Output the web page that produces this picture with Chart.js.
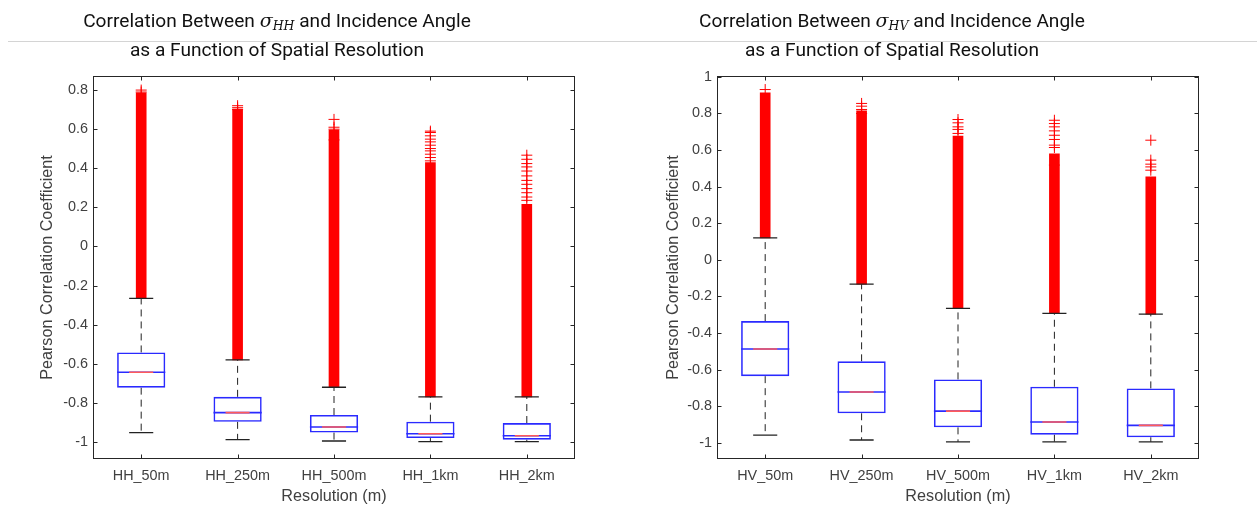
<!DOCTYPE html>
<html>
<head>
<meta charset="utf-8">
<script src="https://cdn.jsdelivr.net/npm/chart.js@4.4.1/dist/chart.umd.min.js"></script>
<style>
  body { margin: 0; background: #fff; width: 1257px; height: 506px; overflow: hidden; position: relative; }
  .panel { position: absolute; top: 0; height: 506px; }
  .title {
    position: absolute; top: 7px; transform: translateX(-50%);
    white-space: nowrap; text-align: center;
    font-family: Roboto, sans-serif; font-size: 19.1px; color: #111;
    z-index: 2;
  }
  .title div { height: 28.5px; line-height: 28px; }
  .title .sym { font-family: "DejaVu Serif", "Liberation Serif", serif; font-style: italic; line-height: 0; }
  .title sub { font-size: 12.5px; vertical-align: -3px; line-height: 0; }
  .rule { position: absolute; top: 41px; left: 8px; right: 0; height: 1px; background: #d4d4d4; z-index: 1; }
</style>
</head>
<body>
<div class="rule"></div>
<div class="title" style="left:277px"><div>Correlation Between <span class="sym">σ<sub>HH</sub></span> and Incidence Angle</div><div>as a Function of Spatial Resolution</div></div>
<div class="title" style="left:892px"><div>Correlation Between <span class="sym">σ<sub>HV</sub></span> and Incidence Angle</div><div>as a Function of Spatial Resolution</div></div>
<div class="panel" style="left:0;width:628px"><canvas id="hhChart"></canvas></div>
<div class="panel" style="left:628px;width:629px"><canvas id="hvChart"></canvas></div>

<script>
// HH panel
const hhLabels = ["HH_50m", "HH_250m", "HH_500m", "HH_1km", "HH_2km"];
const hhLowerWhisker = [-0.952, -0.988, -0.995, -0.998, -0.998];
const hhQ1 = [-0.722, -0.897, -0.952, -0.980, -0.988];
const hhMedian = [-0.643, -0.850, -0.923, -0.958, -0.968];
const hhQ3 = [-0.542, -0.769, -0.862, -0.896, -0.903];
const hhUpperWhisker = [-0.265, -0.580, -0.720, -0.769, -0.769];
// top of the solid run of outliers above each whisker
const hhDenseTop = [0.786, 0.703, 0.595, 0.429, 0.215];
const hhOutliers = [
  [0.80, 0.79],
  [0.72, 0.71, 0.70],
  [0.65, 0.61, 0.60, 0.545],
  [0.59, 0.583, 0.566, 0.549, 0.535, 0.518, 0.501, 0.489, 0.472, 0.455, 0.438],
  [0.467, 0.446, 0.424, 0.407, 0.386, 0.361, 0.338, 0.318, 0.296, 0.275, 0.253, 0.236]
];

// HV panel
const hvLabels = ["HV_50m", "HV_250m", "HV_500m", "HV_1km", "HV_2km"];
const hvLowerWhisker = [-0.958, -0.985, -0.995, -0.995, -0.995];
const hvQ1 = [-0.636, -0.839, -0.916, -0.956, -0.970];
const hvMedian = [-0.488, -0.723, -0.827, -0.887, -0.905];
const hvQ3 = [-0.335, -0.555, -0.654, -0.694, -0.703];
const hvUpperWhisker = [0.120, -0.133, -0.266, -0.293, -0.297];
const hvDenseTop = [0.913, 0.815, 0.676, 0.580, 0.454];
const hvOutliers = [
  [0.931],
  [0.855, 0.840, 0.822, 0.800],
  [0.767, 0.749, 0.727, 0.713, 0.691],
  [0.763, 0.745, 0.727, 0.705, 0.681, 0.658, 0.627, 0.614, 0.518],
  [0.654, 0.545, 0.523, 0.508, 0.490]
];

Chart.defaults.font.family = "'Liberation Sans', Arial, sans-serif";
Chart.defaults.animation = false;

const textGray = "#404040";
const boxHalf = 0.25;
const capHalf = 0.125;

// MATLAB style box: frame + inward ticks on all four sides
const axesBox = {
  id: "axesBox",
  afterDatasetsDraw(chart) {
    const { ctx, chartArea: a, scales } = chart;
    const L = Math.round(a.left) + 0.5, R = Math.round(a.right) - 0.5;
    const T = Math.round(a.top) + 0.5, B = Math.round(a.bottom) - 0.5;
    ctx.save();
    ctx.strokeStyle = "#262626";
    ctx.lineWidth = 1;
    ctx.strokeRect(L, T, R - L, B - T);
    ctx.beginPath();
    scales.y.ticks.forEach(t => {
      const py = Math.round(scales.y.getPixelForValue(t.value)) + 0.5;
      ctx.moveTo(L, py); ctx.lineTo(L + 4, py);
      ctx.moveTo(R, py); ctx.lineTo(R - 4, py);
    });
    scales.x.ticks.forEach(t => {
      const px = Math.round(scales.x.getPixelForValue(t.value)) + 0.5;
      ctx.moveTo(px, B); ctx.lineTo(px, B - 4);
      ctx.moveTo(px, T); ctx.lineTo(px, T + 4);
    });
    ctx.stroke();
    ctx.restore();
  }
};

function segs(n, fn) {
  let out = [];
  for (let i = 0; i < n; i++) {
    out = out.concat(fn(i + 1, i));
    out.push({ x: i + 1, y: null });
  }
  return out;
}

function makeChart(id, labels, lo, q1, med, q3, hi, denseTop, outliers, yMin, yMax, pad) {
  const n = labels.length;
  const lineBase = { type: "line", pointRadius: 0, fill: false, tension: 0, spanGaps: false };

  const datasets = [
    {
      type: "bar", label: "outlier run", order: 6, grouped: false,
      data: labels.map((c, i) => ({ x: i + 1, y: [hi[i], denseTop[i]] })),
      backgroundColor: "#ff0000", barThickness: 10, borderWidth: 0
    },
    {
      type: "scatter", label: "outliers", order: 5,
      data: outliers.flatMap((arr, i) => arr.map(v => ({ x: i + 1, y: v }))),
      pointStyle: "cross", pointRadius: 5.5, borderWidth: 1, borderColor: "#ff0000", showLine: false
    },
    Object.assign({}, lineBase, {
      label: "whiskers", order: 4, borderColor: "#222", borderWidth: 1, borderDash: [7, 5],
      data: segs(n, (x, i) => [{ x, y: q3[i] }, { x, y: hi[i] }, { x, y: null }, { x, y: q1[i] }, { x, y: lo[i] }])
    }),
    Object.assign({}, lineBase, {
      label: "caps", order: 3, borderColor: "#222", borderWidth: 1.3,
      data: segs(n, (x, i) => [{ x: x - capHalf, y: hi[i] }, { x: x + capHalf, y: hi[i] }, { x, y: null },
                               { x: x - capHalf, y: lo[i] }, { x: x + capHalf, y: lo[i] }])
    }),
    {
      type: "bar", label: "boxes", order: 2, grouped: false,
      data: labels.map((c, i) => ({ x: i + 1, y: [q1[i], q3[i]] })),
      backgroundColor: "rgba(0,0,0,0)", borderColor: "#2a2aff", borderWidth: 1.6, borderSkipped: false,
      barPercentage: 0.5, categoryPercentage: 1
    },
    Object.assign({}, lineBase, {
      label: "median edge", order: 1, borderColor: "#2a2aff", borderWidth: 1.6,
      data: segs(n, (x, i) => [{ x: x - boxHalf, y: med[i] }, { x: x + boxHalf, y: med[i] }])
    }),
    Object.assign({}, lineBase, {
      label: "median", order: 0, borderColor: "#ff5a5a", borderWidth: 1.6,
      data: segs(n, (x, i) => [{ x: x - capHalf, y: med[i] }, { x: x + capHalf, y: med[i] }])
    })
  ];

  return new Chart(document.getElementById(id), {
    type: "bar",
    data: { datasets },
    plugins: [axesBox],
    options: {
      responsive: true,
      maintainAspectRatio: false,
      events: [],
      layout: { padding: { left: pad.left, top: 76, right: pad.right, bottom: 0 } },
      plugins: { legend: { display: false }, tooltip: { enabled: false }, title: { display: false } },
      scales: {
        x: {
          type: "linear", min: 0.5, max: 5.5, offset: false,
          grid: { display: false, drawTicks: false }, border: { display: false },
          afterBuildTicks(s) { s.ticks = labels.map((c, i) => ({ value: i + 1 })); },
          ticks: {
            autoSkip: false, maxRotation: 0, padding: 8,
            color: textGray, font: { size: 14.4 },
            callback: v => labels[v - 1] || ""
          },
          title: { display: true, text: "Resolution (m)", color: textGray, font: { size: 16.2 }, padding: 0 },
          afterFit(s) { s.height = 47; }
        },
        y: {
          type: "linear", min: yMin, max: yMax,
          grid: { display: false, drawTicks: false }, border: { display: false },
          ticks: {
            stepSize: 0.2, includeBounds: false, padding: 5,
            color: textGray, font: { size: 14.4 },
            callback: v => String(Math.round(v * 10) / 10)
          },
          title: { display: true, text: "Pearson Correlation Coefficient", color: textGray, font: { size: 16.2 }, padding: 0 },
          afterFit(s) { s.width = pad.yWidth; }
        }
      }
    }
  });
}

makeChart("hhChart", hhLabels, hhLowerWhisker, hhQ1, hhMedian, hhQ3, hhUpperWhisker, hhDenseTop, hhOutliers,
  -1.087, 0.872, { left: 38, right: 53, yWidth: 55 });
makeChart("hvChart", hvLabels, hvLowerWhisker, hvQ1, hvMedian, hvQ3, hvUpperWhisker, hvDenseTop, hvOutliers,
  -1.089, 1.005, { left: 36, right: 58, yWidth: 53 });
</script>
</body>
</html>
